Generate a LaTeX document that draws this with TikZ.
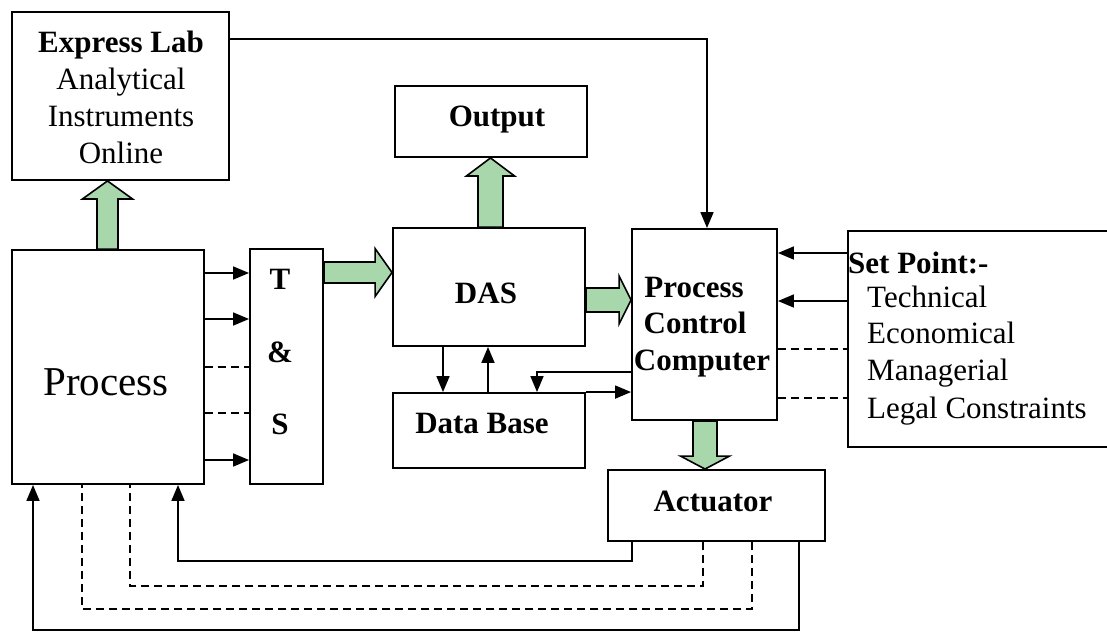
\documentclass[tikz,border=0pt]{standalone}
\usepackage{fontspec}
\setmainfont{Liberation Serif}
\usetikzlibrary{arrows.meta,calc}
\definecolor{fatgreen}{RGB}{168,215,172}
% start, end, shaft half width, head half width, head length
\newcommand\fatarrow[5]{%
  \draw[fat] ($(#1)!#3!90:(#2)$) -- ($($(#2)!#5!(#1)$)!#3!-90:(#1)$) --
    ($($(#2)!#5!(#1)$)!#4!-90:(#1)$) -- (#2) --
    ($($(#2)!#5!(#1)$)!#4!90:(#1)$) -- ($($(#2)!#5!(#1)$)!#3!90:(#1)$) --
    ($(#1)!#3!-90:(#2)$) -- cycle;}
\begin{document}
\begin{tikzpicture}[x=1pt,y=-1pt,
  box/.style 2 args={draw, line width=1.9pt, inner sep=0pt, minimum width=#1, minimum height=#2},
  txt/.style={inner sep=0pt, font=\fontsize{31}{37}\selectfont},
  btxt/.style={inner sep=0pt, font=\fontsize{31}{37}\selectfont\bfseries},
  conn/.style={line width=1.7pt},
  arr/.style={conn, -{Triangle[length=16pt,width=13pt]}},
  dconn/.style={conn, dash pattern=on 8pt off 5pt},
  fat/.style={fill=fatgreen, draw=black, line width=1.6pt, line join=miter}]
\fill[white] (0,0) rectangle (1107,635);
\useasboundingbox (0,0) rectangle (1107,635);
\clip (0,0) rectangle (1107,635);

% boxes
\node[box={217pt}{168pt}] (explab) at (120.5,96) {};
\node[box={192pt}{234pt}] (proc) at (108,367) {};
\node[box={73pt}{235pt}] (ts) at (286.5,366.5) {};
\node[box={192pt}{71pt}] (out) at (491,121.5) {};
\node[box={192pt}{118pt}] (das) at (489,287) {};
\node[box={192pt}{75pt}] (db) at (489,430.5) {};
\node[box={145pt}{191pt}] (pcc) at (704.5,324.5) {};
\node[box={280pt}{216pt}] (setp) at (988,339) {};
\node[box={217pt}{71pt}] (act) at (716.5,505.5) {};

% texts
\node[txt, align=center] (explabtxt) at (121,97.5) {\textbf{Express Lab}\\Analytical\\Instruments\\Online};
\node[inner sep=0pt, font=\fontsize{41}{48}\selectfont, anchor=base] (proctxt) at (106,395.5) {Process};
\node[btxt, anchor=base] (tsT) at (280,289.5) {T};
\node[btxt, anchor=base] (tsAmp) at (280,362.5) {\&};
\node[btxt, anchor=base] (tsS) at (280,434.5) {S};
\node[btxt, anchor=base] (outtxt) at (497,126.5) {Output};
\node[btxt, anchor=base] (dastxt) at (486,303.5) {DAS};
\node[btxt, anchor=base] (dbtxt) at (482,433.5) {Data Base};
\node[btxt, anchor=base] (pcc1) at (694,297.5) {Process};
\node[btxt, anchor=base] (pcc2) at (695,333.5) {Control};
\node[btxt, anchor=base] (pcc3) at (702,370.5) {Computer};
\node[btxt, anchor=base] (acttxt) at (713,511.5) {Actuator};
\node[btxt, anchor=base west] (sp0) at (848,273) {Set Point:-};
\node[txt, anchor=base west] (sp1) at (867,307) {Technical};
\node[txt, anchor=base west] (sp2) at (867,343) {Economical};
\node[txt, anchor=base west] (sp3) at (867,380) {Managerial};
\node[txt, anchor=base west] (sp4) at (867,418) {Legal Constraints};

% green block arrows
\coordinate (fa1s) at (proc.north -| 107.5,0);
\coordinate (fa1e) at (explab.south -| 107.5,0);
\fatarrow{fa1s}{fa1e}{10.5pt}{25pt}{18pt}
\coordinate (fa2s) at (ts.east |- 0,272.5);
\coordinate (fa2e) at (das.west |- 0,272.5);
\fatarrow{fa2s}{fa2e}{10.5pt}{24pt}{17pt}
\coordinate (fa3s) at (das.north -| 490.5,0);
\coordinate (fa3e) at (out.south -| 490.5,0);
\fatarrow{fa3s}{fa3e}{12.5pt}{24pt}{18pt}
\coordinate (fa4s) at (das.east |- 0,300);
\coordinate (fa4e) at (pcc.west |- 0,300);
\fatarrow{fa4s}{fa4e}{12pt}{24pt}{12pt}
\coordinate (fa5s) at (pcc.south -| 705,0);
\coordinate (fa5e) at (act.north -| 705,0);
\fatarrow{fa5s}{fa5e}{12pt}{24.5pt}{13pt}

% connectors
\draw[arr] (explab.east |- 0,39) -| (pcc.north -| 707,0);
\draw[arr] (proc.east |- 0,273) -- (ts.west |- 0,273);
\draw[arr] (proc.east |- 0,319) -- (ts.west |- 0,319);
\draw[dconn] (proc.east |- 0,367) -- (ts.west |- 0,367);
\draw[dconn] (proc.east |- 0,413) -- (ts.west |- 0,413);
\draw[arr] (proc.east |- 0,460) -- (ts.west |- 0,460);
\draw[arr] (das.south -| 443,0) -- (db.north -| 443,0);
\draw[arr] (db.north -| 488,0) -- (das.south -| 488,0);
\draw[arr] (pcc.west |- 0,372) -| (db.north -| 537,0);
\draw[arr] (db.north east) -- (pcc.west |- db.north east);
\draw[arr] (setp.west |- 0,253) -- (pcc.east |- 0,253);
\draw[arr] (setp.west |- 0,301) -- (pcc.east |- 0,301);
\draw[dconn] (pcc.east |- 0,349) -- (setp.west |- 0,349);
\draw[dconn] (pcc.east |- 0,398) -- (setp.west |- 0,398);
\draw[arr] (act.south -| 632,0) |- (178,561) -- (proc.south -| 178,0);
\draw[dconn] (act.south -| 703,0) |- (130,586) -- (proc.south -| 130,0);
\draw[dconn] (act.south -| 752,0) |- (82,609) -- (proc.south -| 82,0);
\draw[arr] (act.south -| 799,0) |- (33,630) -- (proc.south -| 33,0);
\end{tikzpicture}
\end{document}
